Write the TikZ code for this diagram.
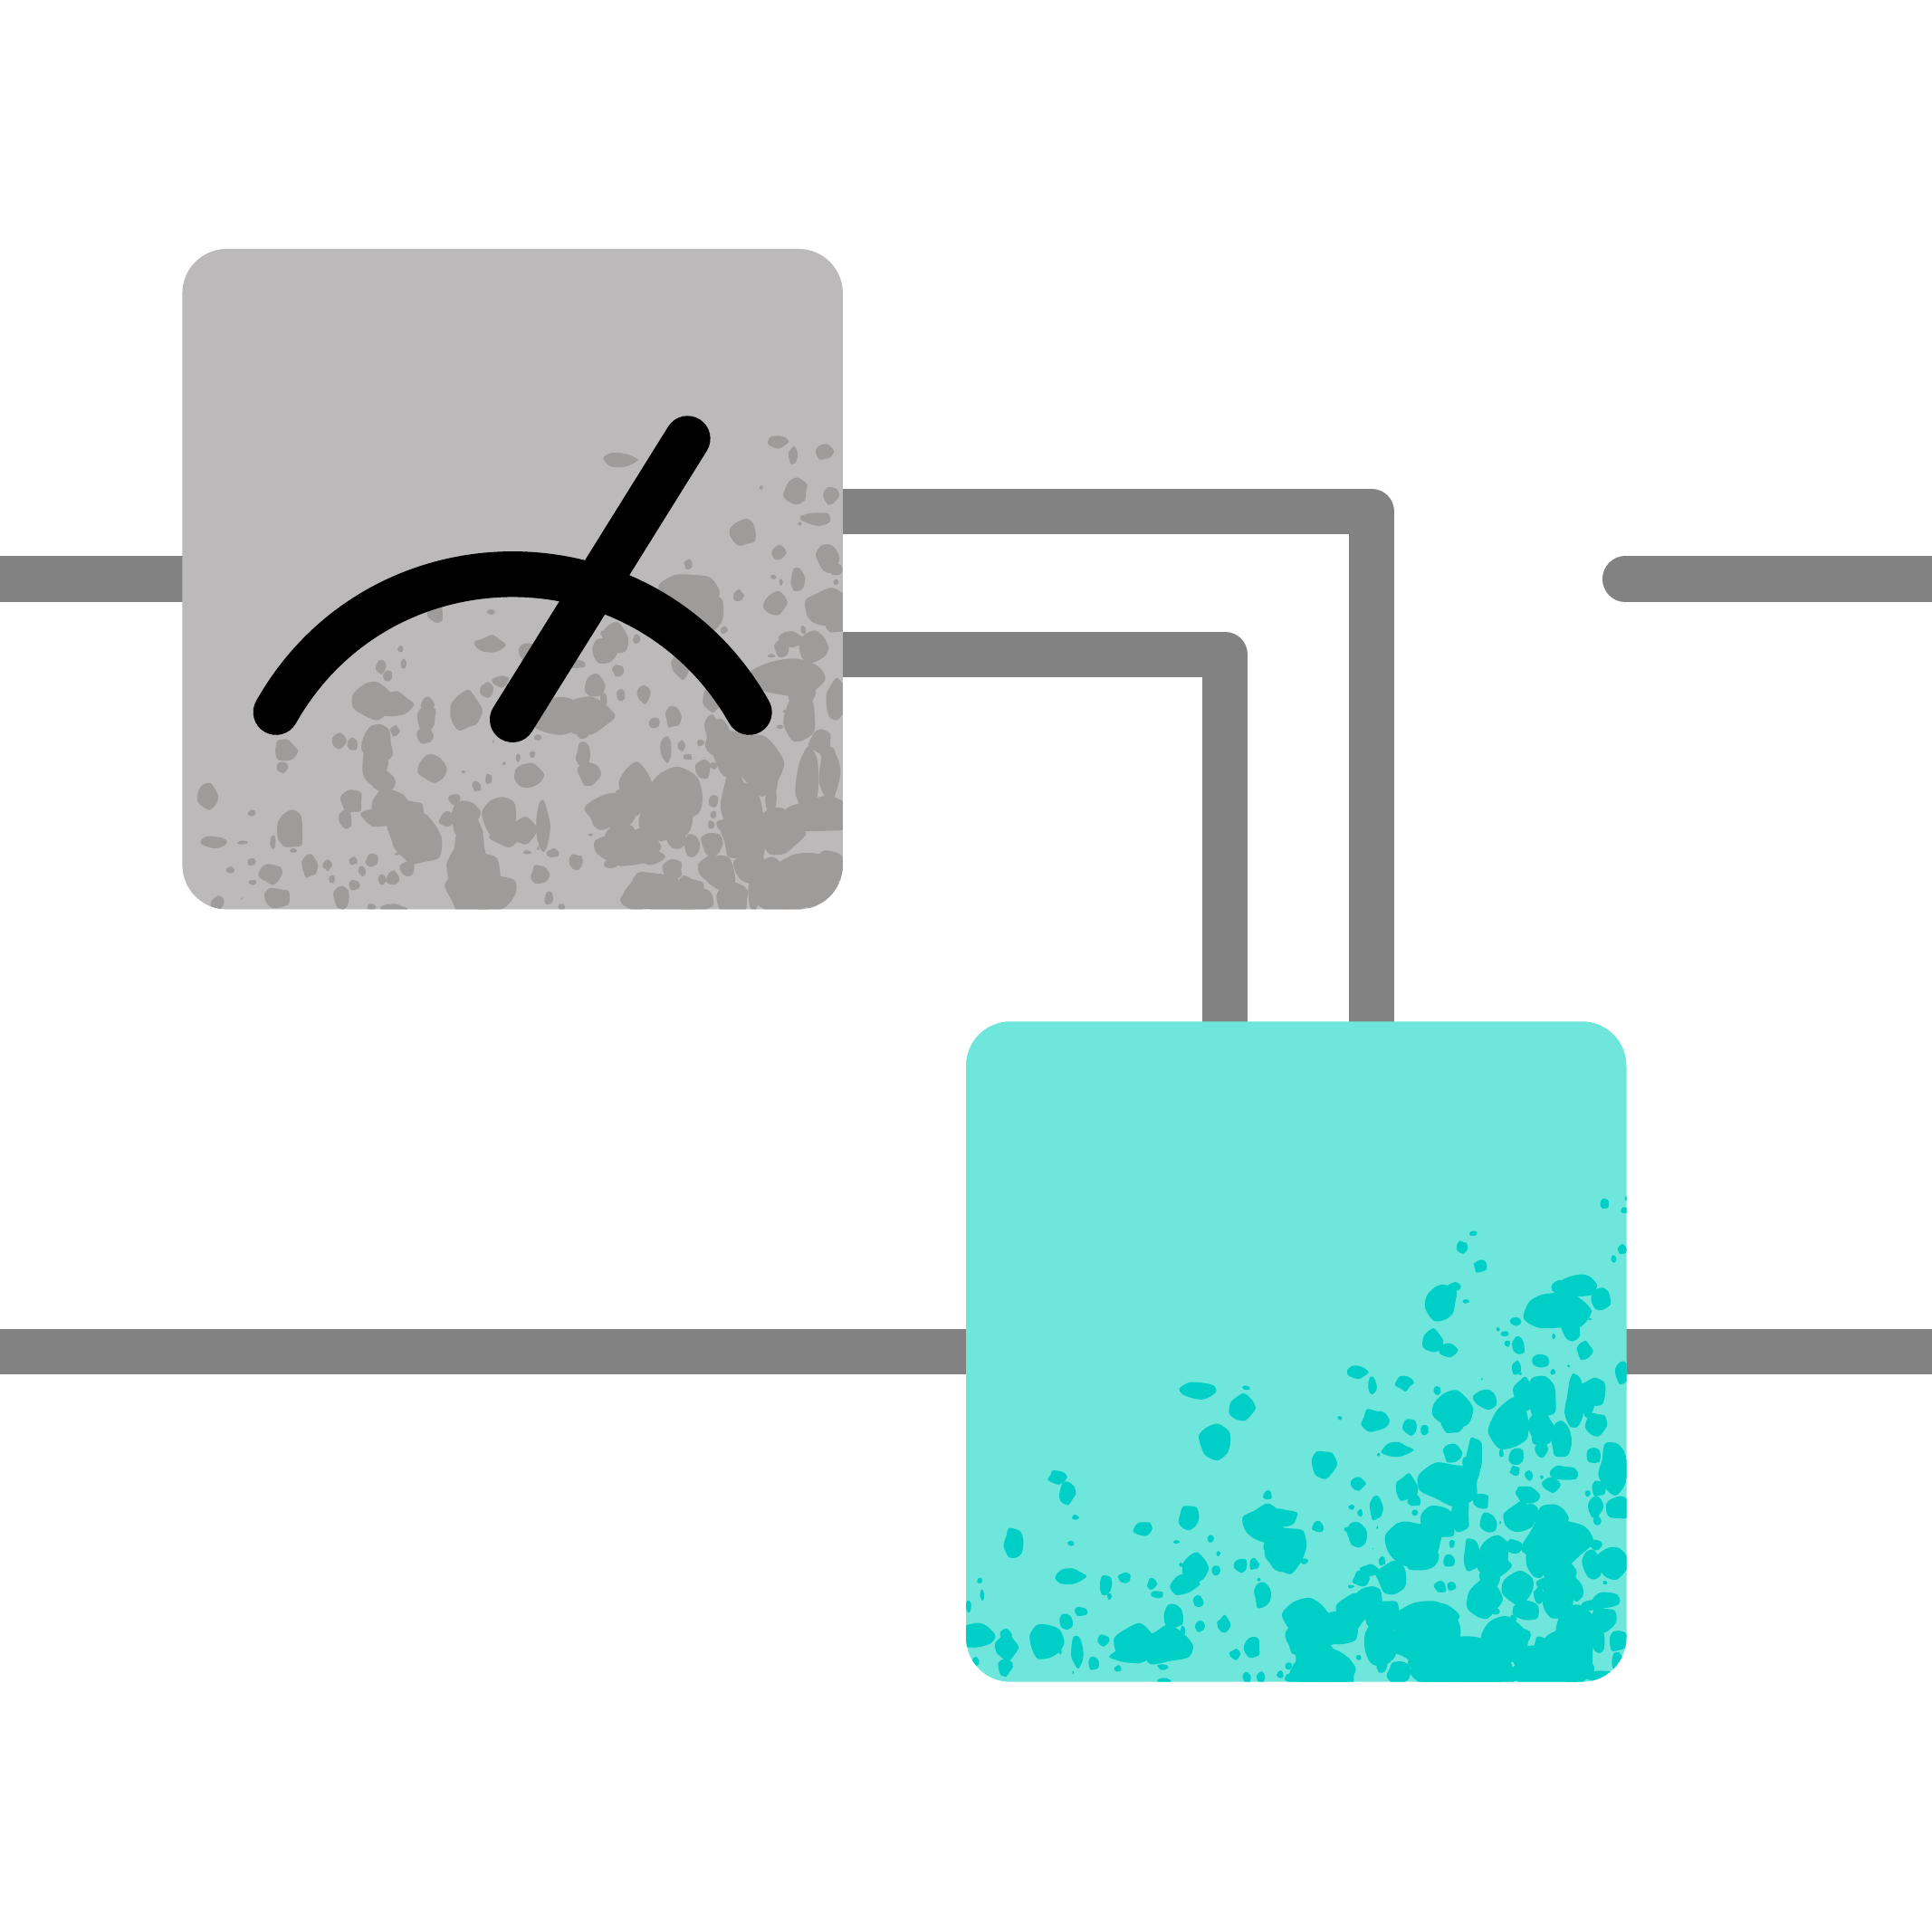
\documentclass[tikz,border=0pt]{standalone}
\definecolor{wirec}{HTML}{828282}
\definecolor{greybox}{HTML}{BBB9BA}
\definecolor{greyspot}{HTML}{9D9C9A}
\definecolor{tealbox}{HTML}{6FE6DB}
\definecolor{tealspot}{HTML}{00CFC8}
\tikzset{
  wire/.style={draw=wirec,line width=18.5pt,line join=round},
  gatebox/.style={rectangle,rounded corners=18pt,minimum size=268pt,inner sep=0pt,outer sep=0pt,draw=none},
  meterline/.style={draw=black,line width=18.5pt,line cap=round},
}
\newcommand{\spots}[1]{%
  \foreach \bx/\by/\ba/\bb in {#1}{%
    \pgfmathsetmacro{\ra}{\ba*(0.95+min(\ba,50)/100)}%
    \pgfmathsetmacro{\rb}{\bb*(0.95+min(\bb,50)/100)}%
    \fill plot[smooth cycle,samples at={0,40,80,120,160,200,240,280,320},variable=\t]
      ({\bx+\ra*cos(\t)*(0.8+0.4*rnd)},{\by+\rb*sin(\t)*(0.8+0.4*rnd)});
  }}
\begin{document}
\begin{tikzpicture}[x=0.5pt,y=-0.5pt]
\useasboundingbox (0,0) rectangle (1568,1568);
\pgfmathsetseed{4217}
\fill[white] (0,0) rectangle (1568,1568);
\coordinate (inA) at (0,470);
\coordinate (inB) at (0,1097);
\coordinate (outA) at (1568,470);
\coordinate (stubA) at (1319,470);
\coordinate (outB) at (1568,1097);
\coordinate (measMid) at (416,470);
\coordinate (gateMid) at (1052,1097);
\coordinate (t1s) at (660,415);
\coordinate (t1c) at (1113,415);
\coordinate (t1e) at (1113,850);
\coordinate (t2s) at (660,531);
\coordinate (t2c) at (994,531);
\coordinate (t2e) at (994,850);
\draw[wire] (inA) -- (measMid);
\draw[wire,line cap=round] (stubA) -- (outA);
\draw[wire] (inB) -- (gateMid) -- (outB);
\draw[wire] (t1s) -- (t1c) -- (t1e);
\draw[wire] (t2s) -- (t2c) -- (t2e);
\node[gatebox,fill=greybox] (meas) at (measMid) {};
\node[gatebox,fill=tealbox] (gate) at (gateMid) {};
\begin{scope}
\clip[rounded corners=18pt] (meas.south west) rectangle (meas.north east);
\begin{scope}[shift={(147,323)},x=0.1735pt,y=-0.13585pt,greyspot]
\spots{1395/130/20/18,1432/170/10/22,1505/160/20/20,1025/185/30/20,1357/267/4/6,1437/280/25/30,1520/292/15/22,1487/360/28/18,1447/376/4/6,1317/402/25/30,1398/462/14/18,1512/478/22/32,1532/512/14/16,1187/497/10/14,1385/535/8/6,1403/550/4/10,1442/540/14/30,1532/550/6/8,1190/580/50/45,1235/640/32/40,1303/590/11/16,1392/612/25/26,1515/630/38/45,1530/680/20/20,595/640/16/28,725/640/8/8,1270/693/8/10,1455/693/7/12,1015/720/26/38,990/757/24/30,985/703/5/7,1065/720/8/14,1425/722/25/20,1405/747/16/22,1475/745/28/35,722/738/27/22,1380/770/8/6,1170/800/20/30,810/760/20/25,925/795/18/12,513/750/6/10,520/795/6/14,468/803/11/18,483/830/10/14,1022/815/12/16,748/845/18/16,715/872/16/20,965/860/20/30,1028/886/10/16,988/900/8/16,1082/885/14/22,1420/840/60/40,1390/830/30/30,1450/880/25/40,450/908/35/40,500/915/30/30,575/915/14/20,575/955/20/30,668/935/28/42,1530/905/20/45,880/950/50/40,950/950/42/40,1240/900/20/30,1450/950/30/50,1412/937/4/5,1108/970/12/15,1150/952/16/28,1400/982/7/7,1240/985/14/30,1255/1020/25/40,835/1015/8/9,940/1010/12/8,730/1027/2/4,368/1025/16/22,402/1035/12/18,243/1055/24/28,500/995/10/14,460/1030/30/40,570/1010/16/22,1450/1010/12/12,1495/1025/22/30,1215/1030/8/10,1235/1018/5/10,1245/1040/14/14,1135/1050/12/30,1170/1040/9/14,1185/1072/10/9,788/1075/5/12,822/1065/7/10,756/1092/4/5,940/1065/15/30,955/1125/22/30,450/1090/25/50,237/1103/12/15,587/1107/25/32,812/1125/26/30,720/1138/8/15,692/1160/10/15,660/1117/5/4,1300/1060/40/50,1350/1090/40/60,1375/1150/20/30,1222/1110/16/25,1245/1098/8/10,1285/1115/12/14,1305/1110/15/20,1510/1060/16/20,1515/1120/20/60,1465/1150/22/70,473/1148/22/26,1060/1170/30/50,1082/1135/7/9,1150/1190/48/60,1120/1250/40/50,1290/1190/22/60,1320/1260/30/80,1380/1200/12/30,1245/1205/12/16,63/1190/22/28,400/1205/22/30,640/1197/12/15,665/1240/25/30,1025/1190/12/20,165/1240/8/10,255/1290/26/45,215/1325/6/20,490/1220/30/40,470/1250/35/25,540/1240/25/30,520/1290/30/40,560/1320/40/50,745/1255/32/45,760/1300/30/30,800/1290/25/30,845/1280/15/50,620/1260/15/20,650/1260/15/35,385/1258/14/22,1000/1240/40/40,985/1265/20/25,1245/1245/8/10,1240/1275/8/12,1265/1275/12/15,1197/1245/2/6,1495/1250/60/40,1400/1300/40/50,1340/1330/20/50,75/1325/25/16,145/1328/12/6,262/1352/8/7,958/1305/6/4,1050/1340/50/40,1030/1320/30/40,1090/1370/30/20,1160/1320/20/20,1195/1335/15/30,1240/1330/20/30,1110/1300/40/20,165/1385/9/11,115/1410/9/9,210/1420/22/26,300/1395/15/30,342/1395/10/15,403/1383/10/11,447/1382/14/17,530/1405/16/20,505/1362/5/4,810/1357/9/6,870/1360/14/12,835/1345/3/5,925/1385/16/20,1003/1392/15/12,423/1412/8/14,470/1440/9/15,495/1435/15/20,353/1437/8/10,405/1455/12/15,168/1447/9/7,838/1425/18/25,1380/1405/20/30,1415/1415/8/6,1235/1405/22/30,1260/1420/30/40,670/1350/30/60,680/1420/40/60,650/1400/22/40,700/1480/60/50,690/1370/20/30,1150/1410/20/25,1100/1465/45/40,1150/1500/50/30,1070/1500/30/25,1190/1480/30/40,1290/1500/30/40,1220/1500/25/25,1470/1420/60/40,1410/1470/50/50,1520/1390/30/30,1340/1480/15/40,1500/1480/40/40,225/1495/25/28,375/1495/16/30,215/1480/12/15,85/1510/14/18,142/1495/2/3,860/1495/10/18,890/1520/8/10,495/1525/25/14,445/1520/10/10,1300/1300/30/50,1330/1400/30/40,1150/1270/40/40,1430/1480/60/40,680/1300/20/40,700/1440/40/60,540/1320/40/40}
\end{scope}
\end{scope}
\begin{scope}
\clip[rounded corners=18pt] (gate.south west) rectangle (gate.north east);
\begin{scope}[shift={(779,955)},x=0.17335pt,y=-0.13595pt,tealspot]
\spots{1510/80/10/16,1555/100/8/10,1560/65/4/6,1202/170/10/7,1176/212/12/18,1218/267/14/18,1550/218/10/14,1530/245/6/10,1157/328/14/12,1128/375/30/42,1185/372/7/6,1403/332/16/18,1450/325/30/30,1500/362/22/28,1395/400/50/45,1352/400/14/18,1430/450/20/32,1302/432/12/12,1475/425/4/3,1260/455/4/6,1276/468/9/8,1390/477/4/8,1104/490/21/28,1145/518/18/20,1308/505/14/25,1282/498/7/10,1462/520/16/22,1358/550/18/18,1303/572/11/18,1312/588/3/5,1388/583/6/8,1425/565/3/4,1550/585/14/28,930/584/20/18,965/625/10/22,1040/615/18/20,1118/638/8/12,1222/604/2/3,560/640/32/22,670/630/8/7,660/690/23/32,1155/695/36/40,1152/745/20/20,1232/665/24/25,1320/655/20/40,1362/660/30/45,1290/740/38/50,1360/755/25/40,1442/630/16/35,1480/645/28/35,1440/680/22/45,1490/740/20/30,1470/680/15/30,970/728/26/28,1054/745/16/22,1088/757/9/14,890/720/5/6,1405/790/20/40,1205/835/18/45,1362/812/14/20,1268/825/5/12,1303/835/17/22,1153/825/20/25,1182/852/6/14,1022/815/28/20,980/830/4/5,852/855/26/32,597/795/30/40,1482/832/16/22,1530/870/28/50,1300/878/11/14,1332/892/9/13,1412/885/28/20,1362/897/4/6,1385/920/20/18,1150/915/50/45,932/916/15/18,1047/928/22/30,1065/967/14/16,1220/968/17/22,1330/950/24/20,1312/933/8/10,1470/945/6/10,1495/930/16/20,228/897/18/20,250/945/18/26,721/950/10/14,1488/985/16/26,1540/990/25/30,975/990/13/30,917/987/7/7,937/1003/6/10,1066/1002/7/10,1120/1030/32/40,1172/1012/20/38,1236/1032/18/26,1310/1020/28/35,1340/1005/14/25,1385/1020/30/30,270/1017/8/7,535/1018/20/32,838/1045/12/16,712/1035/35/40,760/1020/27/25,1492/1027/8/14,1265/1032/2/4,430/1050/20/20,930/1068/22/28,910/1053/12/8,977/1047/2/5,1065/1095/50/50,1040/1065/25/25,1080/1140/35/30,1152/1095/7/12,765/1110/35/50,780/1095/25/30,750/1140/25/30,722/1100/11/16,127/1088/20/35,259/1094/8/7,587/1080/7/11,507/1090/7/5,1395/1090/55/50,1355/1140/25/40,1405/1150/14/50,1385/1120/30/30,1490/1098/12/14,1198/1130/18/36,1255/1125/28/40,1298/1105/16/20,1530/1150/28/35,1480/1160/20/35,1145/1147/14/16,989/1147/8/14,806/1147/9/8,605/1125/5/7,552/1170/24/36,518/1158/5/6,600/1175/9/14,658/1160/14/20,688/1157/11/15,967/1110/1/2,257/1192/28/22,385/1197/14/14,340/1218/14/25,47/1205/6/9,525/1215/26/28,450/1216/11/15,462/1247/13/10,1010/1197/30/35,960/1175/20/15,940/1200/17/20,1240/1200/20/30,1428/1198/14/15,1305/1228/32/36,1368/1215/15/18,1510/1212/5/6,1125/1225/13/15,1150/1222/10/12,915/1223/8/5,700/1203/4/5,710/1250/20/30,1227/1265/30/45,1355/1250/12/22,1400/1260/28/50,1440/1235/18/25,1255/1298/8/10,1325/1295/26/26,1295/1320/8/12,1515/1265/30/20,1480/1280/25/15,52/1248/5/14,350/1252/5/10,558/1268/12/15,20/1282/6/15,282/1298/14/14,500/1315/20/30,248/1328/15/20,617/1338/14/22,562/1340/10/16,522/1355/6/14,960/1265/25/35,920/1300/30/40,990/1310/30/40,810/1320/40/40,880/1350/40/40,860/1375/30/20,1100/1345/55/50,1145/1360/15/25,1125/1310/30/30,985/1395/30/50,1505/1320/28/28,1445/1345/35/45,1270/1390/40/50,1320/1370/15/20,1420/1395/35/40,1365/1410/20/30,1495/1385/15/30,1540/1385/20/25,32/1370/38/30,108/1367/14/14,108/1405/22/30,203/1390/30/40,275/1420/14/35,335/1384/13/16,235/1417/4/8,410/1395/40/40,480/1400/45/40,400/1425/35/20,645/1425/12/14,685/1405/16/28,830/1440/40/60,830/1400/20/30,880/1480/35/40,934/1435/6/7,105/1463/16/22,37/1448/9/12,313/1453/13/17,370/1468/8/9,475/1463/11/8,265/1480/2/5,988/1465/13/14,1028/1480/23/30,1180/1460/80/60,1140/1490/40/30,1230/1490/40/30,1380/1470/70/40,1440/1460/30/35,1290/1490/15/20,770/1460/8/10,750/1485/8/10,775/1495/14/14,672/1495/9/15,705/1495/9/15,477/1505/15/8,1500/1490/30/15,1540/1450/14/25,1190/1385/10/12,800/1380/30/40,850/1470/50/50,1060/1390/40/40,1130/1430/50/50,1340/1440/40/30,1450/1420/30/50,1400/1180/30/40,1250/1160/30/30}
\end{scope}
\end{scope}
\coordinate (arcL) at (224,578);
\coordinate (arcR) at (608,578);
\coordinate (ctrlL) at (308.4,428.7);
\coordinate (ctrlR) at (523.6,428.7);
\coordinate (needleA) at (416,584);
\coordinate (needleB) at (558,356);
\draw[meterline] (arcL) .. controls (ctrlL) and (ctrlR) .. (arcR);
\draw[meterline] (needleA) -- (needleB);
\end{tikzpicture}
\end{document}
